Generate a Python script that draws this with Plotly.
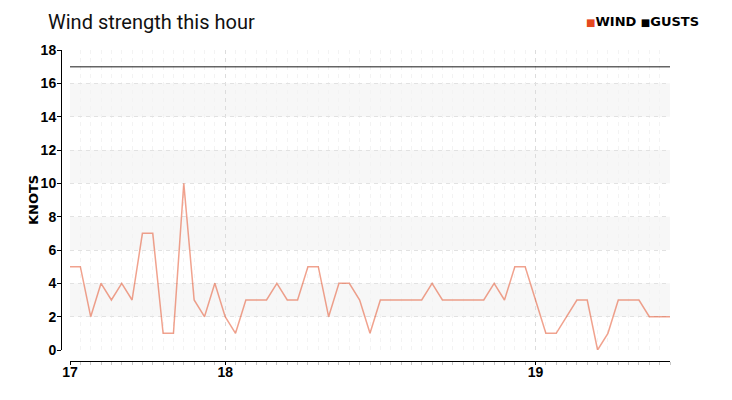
import plotly.graph_objects as go

# ---- data ----
times = ["17:30", "17:32", "17:34", "17:36", "17:38", "17:40", "17:42", "17:44", "17:46", "17:48",
         "17:50", "17:52", "17:54", "17:56", "17:58", "18:00", "18:02", "18:04", "18:06", "18:08",
         "18:10", "18:12", "18:14", "18:16", "18:18", "18:20", "18:22", "18:24", "18:26", "18:28",
         "18:30", "18:32", "18:34", "18:36", "18:38", "18:40", "18:42", "18:44", "18:46", "18:48",
         "18:50", "18:52", "18:54", "18:56", "18:58", "19:00", "19:02", "19:04", "19:06", "19:08",
         "19:10", "19:12", "19:14", "19:16", "19:18", "19:20", "19:22", "19:24", "19:26"]
wind = [5, 5, 2, 4, 3, 4, 3, 7, 7, 1, 1, 10, 3, 2, 4,
        2, 1, 3, 3, 3, 4, 3, 3, 5, 5, 2, 4, 4, 3, 1,
        3, 3, 3, 3, 3, 4, 3, 3, 3, 3, 3, 4, 3, 5, 5,
        3, 1, 1, 2, 3, 3, 0, 1, 3, 3, 3, 2, 2, 2]
gusts = [17, 17, 17, 17, 17, 17, 17, 17, 17, 17, 17, 17, 17, 17, 17,
         17, 17, 17, 17, 17, 17, 17, 17, 17, 17, 17, 17, 17, 17, 17,
         17, 17, 17, 17, 17, 17, 17, 17, 17, 17, 17, 17, 17, 17, 17,
         17, 17, 17, 17, 17, 17, 17, 17, 17, 17, 17, 17, 17, 17]
tick_times = ["17:30", "18:00", "19:00"]
tick_labels = ["17", "18", "19"]
y_ticks = [0, 2, 4, 6, 8, 10, 12, 14, 16, 18]
bands = [(2, 4), (6, 8), (10, 12), (14, 16)]

DAY = "2024-01-01 "
x = [DAY + t for t in times]
tickvals = [DAY + t for t in tick_times]

WIND_COLOR = "#e5481f"
GUST_COLOR = "#000000"
TICKFONT = dict(family="Liberation Sans", size=14, color="#000", weight="bold")
LBLFONT = dict(family="DejaVu Sans", size=13, color="#000", weight="bold")

fig = go.Figure()
fig.add_trace(go.Scatter(x=x, y=gusts, name="GUSTS", mode="lines",
                         line=dict(color=GUST_COLOR, width=1.5), opacity=0.6,
                         showlegend=False, hoverinfo="skip"))
fig.add_trace(go.Scatter(x=x, y=wind, name="WIND", mode="lines",
                         line=dict(color=WIND_COLOR, width=1.5), opacity=0.5,
                         showlegend=False))

for y0, y1 in bands:
    fig.add_shape(type="rect", xref="x domain", yref="y", x0=0, x1=1, y0=y0, y1=y1,
                  fillcolor="#f7f7f7", line=dict(width=0), layer="below")

# page body adds an 8px offset; figure is sized so it fits the window
FW, FH = 724, 392
L, T = 52, 42
W, H = 610, 311
R = FW - L - W
B = FH - T - H

fig.update_layout(
    width=FW, height=FH,
    margin=dict(l=L, r=R, t=T, b=B, autoexpand=False),
    paper_bgcolor="white", plot_bgcolor="white",
    title=dict(text="Wind strength this hour", x=40 / FW, xanchor="left",
               y=1 - 14 / FH, yanchor="middle",
               font=dict(family="Roboto", size=20, color="#111", weight=400)),
    xaxis=dict(type="date", range=[x[0], x[-1]], domain=[10 / W, 1],
               anchor="free", position=0, automargin=False,
               showline=True, linecolor="#000", linewidth=1,
               tickmode="array", tickvals=tickvals, ticktext=tick_labels,
               ticks="outside", ticklen=3, tickcolor="#000", tickfont=TICKFONT,
               ticklabelstandoff=-5,
               showgrid=True, gridcolor="#dcdcdc", griddash="4px,4px", gridwidth=1,
               zeroline=False,
               minor=dict(tickmode="array", tickvals=x, ticks="outside", ticklen=3,
                          tickcolor="#c8c8c8", showgrid=True, gridcolor="#f3f3f3",
                          griddash="4px,4px")),
    yaxis=dict(range=[0, 18], domain=[11 / H, 1], anchor="free", position=1 / W,
               automargin=False,
               tickmode="array", tickvals=y_ticks,
               showline=True, linecolor="#000", linewidth=1,
               ticks="outside", ticklen=4, tickcolor="#000", tickfont=TICKFONT,
               ticklabelstandoff=-2,
               showgrid=True, gridcolor="#e2e2e2", griddash="4px,4px", gridwidth=1,
               zeroline=False),
    annotations=[
        dict(xref="paper", yref="paper", x=1, y=1, xanchor="right", yanchor="middle",
             xshift=31, yshift=29, showarrow=False,
             text=f"<span style='color:{WIND_COLOR};font-size:10px'>■</span>WIND "
                  f"<span style='color:{GUST_COLOR};font-size:10px'>■</span>GUSTS",
             font=LBLFONT),
        dict(xref="paper", yref="y domain", x=0, y=0.5, xanchor="center",
             yanchor="middle", xshift=-27, textangle=-90, showarrow=False,
             text="KNOTS", font=LBLFONT),
    ],
)

fig.write_html("out.html")
